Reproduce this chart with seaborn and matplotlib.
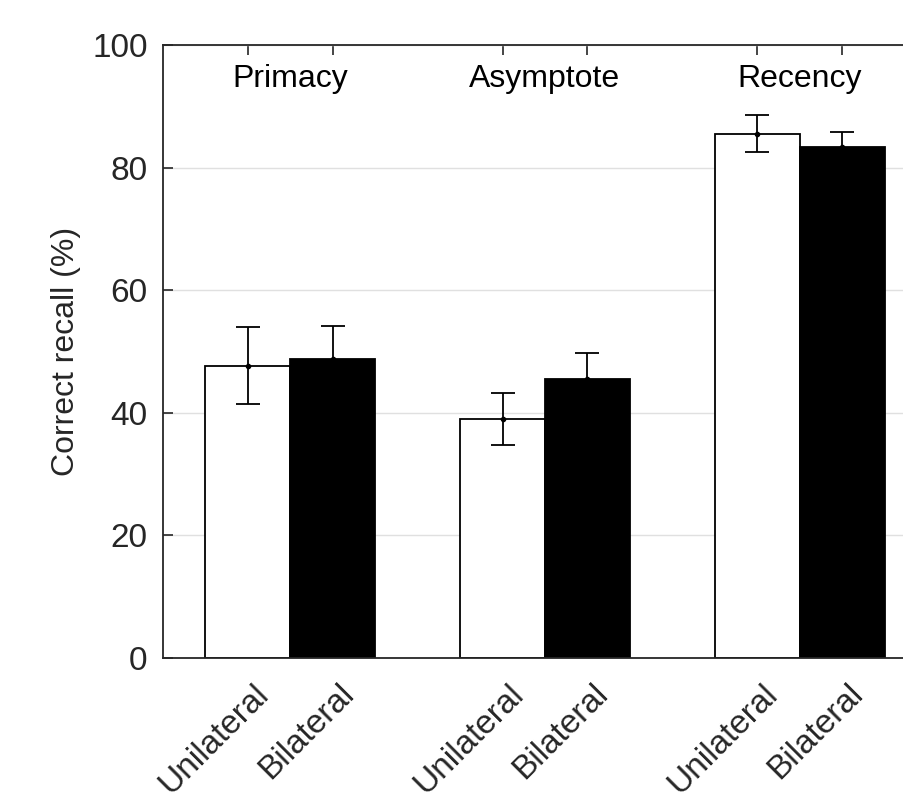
import matplotlib
matplotlib.use("Agg")
import matplotlib.pyplot as plt
import matplotlib.transforms as mtransforms
from matplotlib.container import BarContainer
import seaborn as sns
import pandas as pd
import numpy as np

# ---- data ----
groups = ["Primacy", "Asymptote", "Recency"]
conditions = ["Unilateral", "Bilateral"]
unilateral_mean = [47.7, 39.0, 85.5]
unilateral_err = [6.3, 4.2, 3.0]
bilateral_mean = [48.8, 45.5, 83.3]
bilateral_err = [5.4, 4.3, 2.5]
y_ticks = [0, 20, 40, 60, 80, 100]

df = pd.DataFrame({
    "group": groups * 2,
    "condition": [conditions[0]] * 3 + [conditions[1]] * 3,
    "recall": unilateral_mean + bilateral_mean,
    "err": unilateral_err + bilateral_err,
})

sns.set_style("white")
plt.rcParams["font.family"] = ["Liberation Sans", "DejaVu Sans"]

fig = plt.figure(figsize=(9.04, 8.0), dpi=100)
ax = fig.add_axes([163 / 904, 1 - 658 / 800, (927 - 163) / 904, (658 - 45) / 800])

sns.barplot(data=df, x="group", y="recall", hue="condition", order=groups,
            hue_order=conditions, palette=["white", "black"], width=2 / 3,
            errorbar=None, edgecolor="black", linewidth=1.3, ax=ax,
            legend=False, saturation=1, zorder=2)

bar_conts = [c for c in ax.containers if isinstance(c, BarContainer)]

# error bars drawn on bar centers
for cont, cond in zip(bar_conts, conditions):
    sub = df[df["condition"] == cond].set_index("group").loc[groups]
    xs = [p.get_x() + p.get_width() / 2 for p in cont.patches]
    ax.errorbar(xs, sub["recall"].values, yerr=sub["err"].values, fmt="o",
                color="black", markersize=3, elinewidth=1.3, capsize=8.5,
                capthick=1.3, zorder=3)

ax.set_xlim(-0.5, 2.5)
ax.set_ylim(0, 100)
ax.set_yticks(y_ticks)
ax.set_yticklabels([str(v) for v in y_ticks], fontsize=24)
ax.yaxis.grid(True, color="#e0e0e0", linewidth=1.0, zorder=0)
ax.set_axisbelow(True)

xt = sorted([p.get_x() + p.get_width() / 2 for cont in bar_conts for p in cont.patches])
xl = [conditions[i % 2] for i in range(len(xt))]
ax.set_xticks(xt)

ax.tick_params(axis="both", direction="in", length=7, width=1.2, color="#262626",
               top=True, right=True, bottom=True, left=True, pad=11,
               labelcolor="#262626")
ax.tick_params(axis="x", pad=0)

ax.set_xticklabels(xl, rotation=45, ha="right", va="center",
                   rotation_mode="anchor", fontsize=24)

for s in ax.spines.values():
    s.set_visible(True)
    s.set_color("#262626")
    s.set_linewidth(1.3)

ax.set_xlabel("")
ax.set_ylabel("Correct recall (%)", fontsize=23, color="#262626", labelpad=8)

for i, g in enumerate(groups):
    ax.text(i, 94.5, g, ha="center", va="center", fontsize=23, color="black")

fig.canvas.draw()
offset = mtransforms.ScaledTranslation(16 / 100, -31 / 100, fig.dpi_scale_trans)
for lab in ax.get_xticklabels():
    lab.set_transform(lab.get_transform() + offset)

fig.savefig("out.png", dpi=100)
